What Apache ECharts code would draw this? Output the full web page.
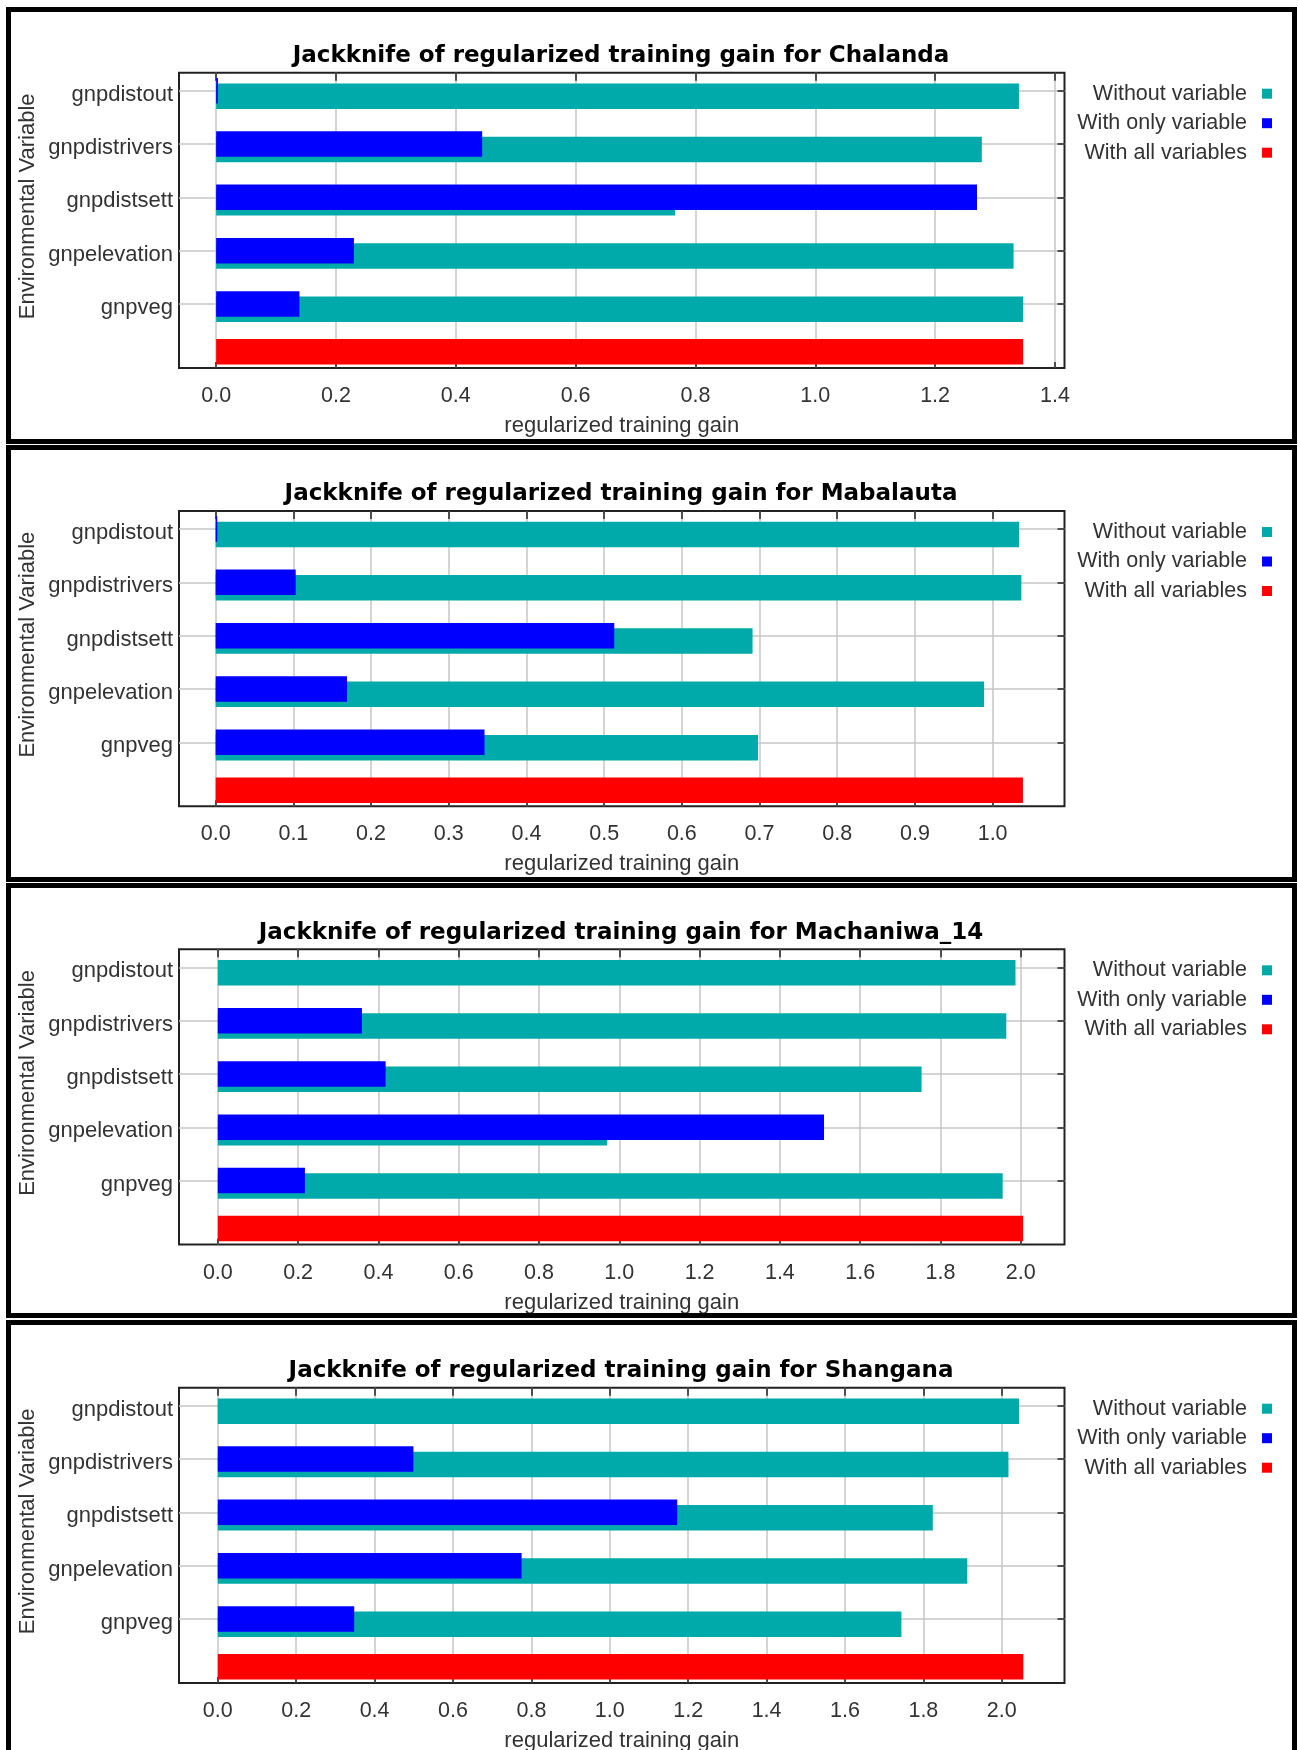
<!DOCTYPE html>
<html>
<head>
<meta charset="utf-8">
<script src="https://cdn.jsdelivr.net/npm/echarts@6/dist/echarts.min.js"></script>
<style>
html,body{margin:0;padding:0;background:#fff;}
#chart{width:1298px;height:1750px;}
</style>
</head>
<body>
<div id="chart"></div>
<script>
// ---------- data ----------
const variables = ['gnpdistout', 'gnpdistrivers', 'gnpdistsett', 'gnpelevation', 'gnpveg'];
const seriesNames = ['Without variable', 'With only variable', 'With all variables'];
const sites = ['Chalanda', 'Mabalauta', 'Machaniwa_14', 'Shangana'];

const chalandaWithout = [1.340, 1.278, 0.766, 1.331, 1.347];
const chalandaOnly    = [0.003, 0.444, 1.270, 0.230, 0.139];
const chalandaAll     = 1.347;
const chalandaTicks   = [0.0, 0.2, 0.4, 0.6, 0.8, 1.0, 1.2, 1.4];

const mabalautaWithout = [1.034, 1.037, 0.691, 0.989, 0.698];
const mabalautaOnly    = [0.002, 0.103, 0.513, 0.169, 0.346];
const mabalautaAll     = 1.039;
const mabalautaTicks   = [0.0, 0.1, 0.2, 0.3, 0.4, 0.5, 0.6, 0.7, 0.8, 0.9, 1.0];

const machaniwaWithout = [1.987, 1.964, 1.753, 0.970, 1.955];
const machaniwaOnly    = [0.0, 0.359, 0.418, 1.510, 0.217];
const machaniwaAll     = 2.006;
const machaniwaTicks   = [0.0, 0.2, 0.4, 0.6, 0.8, 1.0, 1.2, 1.4, 1.6, 1.8, 2.0];

const shanganaWithout = [2.044, 2.017, 1.824, 1.912, 1.744];
const shanganaOnly    = [0.0, 0.499, 1.172, 0.775, 0.348];
const shanganaAll     = 2.055;
const shanganaTicks   = [0.0, 0.2, 0.4, 0.6, 0.8, 1.0, 1.2, 1.4, 1.6, 1.8, 2.0];

// ---------- layout ----------
const panels = [
  {site: sites[0], without: chalandaWithout, only: chalandaOnly, all: chalandaAll, ticks: chalandaTicks,
   min: -0.062, max: 1.416, frameTop: 72.7, box: [7, 444]},
  {site: sites[1], without: mabalautaWithout, only: mabalautaOnly, all: mabalautaAll, ticks: mabalautaTicks,
   min: -0.0472, max: 1.0925, frameTop: 511, box: [445, 882]},
  {site: sites[2], without: machaniwaWithout, only: machaniwaOnly, all: machaniwaAll, ticks: machaniwaTicks,
   min: -0.0967, max: 2.109, frameTop: 949.3, box: [883, 1318]},
  {site: sites[3], without: shanganaWithout, only: shanganaOnly, all: shanganaAll, ticks: shanganaTicks,
   min: -0.099, max: 2.160, frameTop: 1387.7, box: [1320, 1765]}
];

const FONT = 'Liberation Sans, Arial, Helvetica, sans-serif';
const TITLE_FONT = 'DejaVu Sans, Liberation Sans, Arial, sans-serif';
const FRAME_L = 179, FRAME_R = 1064.5, FRAME_H = 295.3, BAND = 53.3;
const TEAL = '#00aaaa', BLUE = '#0000ff', RED = '#ff0000';
const GRID_C = '#c6c6c6', DARK = '#222';
const BAR_W = 25.5, BAR_GAP = '-78.8%';

const option = {
  animation: false,
  backgroundColor: '#fff',
  textStyle: {fontFamily: FONT},
  title: [], legend: [], grid: [], xAxis: [], yAxis: [], series: [], graphic: []
};

const catData = variables.concat(['']);
const showCat = (idx) => idx < variables.length;

panels.forEach((p, i) => {
  const gF = i * 2, gD = i * 2 + 1;
  // frame grid
  option.grid.push({left: FRAME_L, top: p.frameTop, width: FRAME_R - FRAME_L, height: FRAME_H,
    show: true, borderColor: DARK, borderWidth: 2, backgroundColor: 'transparent',
    containLabel: false, outerBoundsMode: 'none'});
  // data grid (category bands)
  option.grid.push({left: FRAME_L, top: p.frameTop - 8.6, width: FRAME_R - FRAME_L, height: BAND * 6,
    show: false, containLabel: false, outerBoundsMode: 'none'});

  // x axes: bottom(frame), top(frame), data
  option.xAxis.push({
    gridIndex: gF, type: 'value', min: p.min, max: p.max, position: 'bottom',
    axisLine: {show: false},
    axisTick: {show: true, inside: true, length: 6, customValues: p.ticks, lineStyle: {color: DARK, width: 1.5}},
    axisLabel: {show: true, customValues: p.ticks, formatter: v => Number(v).toFixed(1), margin: 17,
      fontSize: 21.5, color: '#333', fontFamily: FONT},
    splitLine: {show: true, lineStyle: {color: GRID_C, width: 1.5}},
    name: 'regularized training gain', nameLocation: 'middle', nameGap: 47,
    nameTextStyle: {fontSize: 22, color: '#333', fontFamily: FONT}
  });
  option.xAxis.push({
    gridIndex: gF, type: 'value', min: p.min, max: p.max, position: 'top',
    axisLine: {show: false},
    axisTick: {show: true, inside: true, length: 8, customValues: p.ticks, lineStyle: {color: DARK, width: 1.5}},
    axisLabel: {show: false}, splitLine: {show: false}
  });
  option.xAxis.push({gridIndex: gD, type: 'value', min: p.min, max: p.max, show: false});

  // y axes: frame (name only), data-left, data-right
  option.yAxis.push({
    gridIndex: gF, type: 'value', min: 0, max: 1,
    axisLine: {show: false}, axisTick: {show: false}, axisLabel: {show: false}, splitLine: {show: false},
    name: 'Environmental Variable', nameLocation: 'middle', nameGap: 140,
    nameTextStyle: {fontSize: 22, color: '#333', fontFamily: FONT, padding: [0, 0, 0, 28]}
  });
  option.yAxis.push({
    gridIndex: gD, type: 'category', data: catData, inverse: true, boundaryGap: true,
    axisLine: {show: false},
    axisTick: {show: true, inside: true, alignWithLabel: true, length: 7, interval: showCat,
      lineStyle: {color: DARK, width: 1.5}},
    axisLabel: {show: true, interval: 0, margin: 6, fontSize: 22, color: '#333', fontFamily: FONT,
      verticalAlign: 'top', lineHeight: 8},
    splitLine: {show: true, alignWithLabel: true, interval: showCat, lineStyle: {color: GRID_C, width: 1.5}}
  });
  option.yAxis.push({
    gridIndex: gD, type: 'category', data: catData, inverse: true, boundaryGap: true, position: 'right',
    axisLine: {show: false},
    axisTick: {show: true, inside: true, alignWithLabel: true, length: 7, interval: showCat,
      lineStyle: {color: DARK, width: 1.5}},
    axisLabel: {show: false}, splitLine: {show: false}
  });

  const xi = i * 3 + 2, yi = i * 3 + 1;
  const allData = variables.map(() => '-').concat([p.all]);
  option.series.push({type: 'bar', name: seriesNames[2], xAxisIndex: xi, yAxisIndex: yi,
    data: allData, barWidth: BAR_W, barGap: BAR_GAP, itemStyle: {color: RED}, z: 2});
  option.series.push({type: 'bar', name: seriesNames[1], xAxisIndex: xi, yAxisIndex: yi,
    data: p.only, barWidth: BAR_W, barGap: BAR_GAP, itemStyle: {color: BLUE}, z: 4});
  option.series.push({type: 'bar', name: seriesNames[0], xAxisIndex: xi, yAxisIndex: yi,
    data: p.without, barWidth: BAR_W, barGap: BAR_GAP, itemStyle: {color: TEAL}, z: 3});

  option.title.push({
    text: 'Jackknife of regularized training gain for ' + p.site,
    left: 621, top: p.frameTop - 28, textAlign: 'center', padding: 0,
    textStyle: {fontSize: 23, fontWeight: 'bold', color: '#000', fontFamily: TITLE_FONT}
  });

  option.legend.push({
    orient: 'vertical', right: 26, top: p.frameTop + 10, align: 'right', padding: 0,
    itemWidth: 10, itemHeight: 10, itemGap: 7.5, icon: 'rect', selectedMode: false,
    data: seriesNames,
    textStyle: {fontSize: 21.5, color: '#333', fontFamily: FONT, padding: [0, 10, 0, 0]}
  });

  option.graphic.push({
    type: 'rect', silent: true, z: 100,
    shape: {x: 8.5, y: p.box[0] + 2.5, width: 1286, height: p.box[1] - p.box[0] - 5},
    style: {fill: 'none', stroke: '#000', lineWidth: 5}
  });
});

const chart = echarts.init(document.getElementById('chart'), null, {renderer: 'canvas'});
chart.setOption(option);
</script>
</body>
</html>
